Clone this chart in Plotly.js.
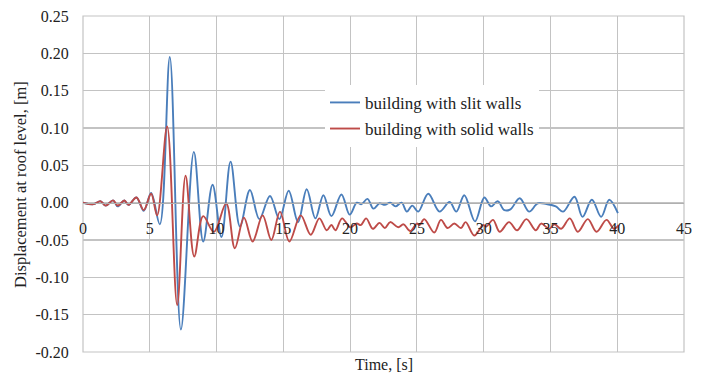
<!DOCTYPE html>
<html>
<head>
<meta charset="utf-8">
<script src="https://cdn.plot.ly/plotly-3.0.1.min.js"></script>
<style>
  html, body { margin: 0; padding: 0; background: #ffffff; }
  #chart { width: 701px; height: 381px; }
</style>
</head>
<body>
<div id="chart"></div>
<script>
// Roof-level displacement time histories (turning points of each response)
const tSlit = [0, 0.8, 1.3, 1.7, 2.25, 2.6, 3.1, 3.4, 4.0, 4.55, 5.1, 5.75, 6.5, 7.33, 8.3, 9.0, 9.7, 10.37, 11.05, 11.75,
  12.5, 13.2, 14.0, 14.7, 15.4, 16.1, 16.75, 17.4, 18.0, 18.6, 19.35, 19.97, 20.5, 20.85, 21.3, 21.75, 22.2, 22.6,
  23.0, 23.4, 23.85, 24.25, 24.65, 25.1, 25.85, 26.7, 27.45, 27.95, 28.55, 29.35, 30.05, 30.55, 31.05, 31.55, 32.0,
  32.7, 33.4, 34.05, 34.7, 35.4, 35.95, 36.8, 37.4, 38.1, 38.8, 39.4, 40.05];
const dSlit = [0, -0.002, 0.002, -0.004, 0.003, -0.005, 0.003, -0.003, 0.007, -0.011, 0.013, -0.029, 0.195, -0.170,
  0.068, -0.052, 0.024, -0.046, 0.055, -0.032, 0.017, -0.022, 0.009, -0.022, 0.016, -0.026, 0.018, -0.021, 0.010,
  -0.018, 0.011, -0.016, 0.000, -0.002, 0.005, -0.008, -0.001, -0.003, 0.000, -0.005, 0.000, -0.012, -0.004, -0.012,
  0.012, -0.012, 0.001, -0.012, 0.010, -0.025, 0.007, -0.005, 0.002, -0.010, -0.009, 0.006, -0.012, -0.001, -0.002,
  -0.005, -0.012, 0.008, -0.019, 0.004, -0.019, 0.004, -0.014];

const tSolid = [0, 0.8, 1.3, 1.7, 2.25, 2.6, 3.1, 3.4, 4.0, 4.55, 5.1, 5.55, 6.3, 7.05, 7.68, 8.33, 9.0, 9.8, 10.72,
  11.37, 12.05, 12.7, 13.45, 14.1, 14.75, 15.45, 16.3, 17.05, 17.7, 18.25, 18.6, 18.9, 19.4, 20.0, 20.5, 20.8, 21.2,
  21.7, 22.2, 22.6, 23.0, 23.6, 24.0, 24.5, 25.0, 25.2, 25.55, 26.3, 26.8, 27.3, 27.8, 28.3, 28.65, 29.3, 29.95, 30.2,
  30.7, 31.2, 31.9, 32.5, 33.2, 33.9, 34.3, 34.9, 35.3, 35.8, 36.45, 37.05, 37.8, 38.45, 39.2, 39.75, 40.1];
const dSolid = [0, -0.002, 0.002, -0.004, 0.003, -0.004, 0.003, -0.003, 0.007, -0.010, 0.012, -0.017, 0.102, -0.137,
  0.036, -0.072, -0.018, -0.039, -0.001, -0.061, -0.020, -0.052, -0.017, -0.050, -0.012, -0.052, -0.017, -0.043,
  -0.021, -0.037, -0.030, -0.037, -0.021, -0.033, -0.028, -0.030, -0.021, -0.035, -0.027, -0.034, -0.026, -0.033,
  -0.029, -0.038, -0.028, -0.030, -0.022, -0.040, -0.023, -0.034, -0.028, -0.034, -0.026, -0.044, -0.030, -0.032,
  -0.023, -0.039, -0.026, -0.037, -0.022, -0.037, -0.028, -0.035, -0.029, -0.035, -0.021, -0.039, -0.022, -0.039,
  -0.023, -0.035, -0.030];

const seriesNames = ['building with slit walls', 'building with solid walls'];
const xTickVals = [0, 5, 10, 15, 20, 25, 30, 35, 40, 45];
const xTickText = ['0', '5', '10', '15', '20', '25', '30', '35', '40', '45'];
const yTickVals = [-0.20, -0.15, -0.10, -0.05, 0.00, 0.05, 0.10, 0.15, 0.20, 0.25];
const yTickText = ['-0.20', '-0.15', '-0.10', '-0.05', '0.00', '0.05', '0.10', '0.15', '0.20', '0.25'];
const xTitle = 'Time, [s]';
const yTitle = 'Displacement at roof level, [m]';

const serif = 'Liberation Serif, Times New Roman, serif';
const gridColor = '#c3c3c3';
const textColor = '#222222';
const yMin = -0.20, yMax = 0.25;

const traces = [
  {
    x: tSlit, y: dSlit, name: seriesNames[0], type: 'scatter', mode: 'lines',
    line: { color: '#4a7ebb', width: 1.9, shape: 'spline', smoothing: 1 },
    legendgroup: 'a'
  },
  {
    x: tSolid, y: dSolid, name: seriesNames[1], type: 'scatter', mode: 'lines',
    line: { color: '#be4b48', width: 1.9, shape: 'spline', smoothing: 1 },
    legendgroup: 'b'
  }
];

const layout = {
  width: 701, height: 381,
  margin: { l: 83, r: 17, t: 16, b: 29 },
  paper_bgcolor: '#ffffff', plot_bgcolor: '#ffffff',
  font: { family: serif, size: 16, color: textColor },
  showlegend: true,
  legend: {
    x: 0.4027, y: 0.795, xanchor: 'left', yanchor: 'top',
    bgcolor: '#ffffff', borderwidth: 0,
    font: { family: serif, size: 17, color: textColor },
    traceorder: 'grouped', tracegroupgap: 1
  },
  xaxis: {
    range: [0, 45], tickvals: xTickVals, ticktext: xTickText,
    showgrid: true, gridcolor: gridColor, gridwidth: 1.2,
    zeroline: false,
    anchor: 'free', position: (0 - yMin) / (yMax - yMin),
    showline: true, linecolor: '#b0b0b0', linewidth: 1.2,
    ticks: 'outside', ticklen: 11, tickcolor: 'rgba(0,0,0,0)',
    tickfont: { family: serif, size: 16, color: textColor }
  },
  yaxis: {
    range: [yMin, yMax], tickvals: yTickVals, ticktext: yTickText,
    showgrid: true, gridcolor: gridColor, gridwidth: 1.2,
    zeroline: false, showline: false,
    ticks: 'outside', ticklen: 10, tickcolor: 'rgba(0,0,0,0)',
    tickfont: { family: serif, size: 16, color: textColor }
  },
  shapes: [
    { type: 'rect', xref: 'paper', yref: 'paper', x0: 0, x1: 1, y0: 0, y1: 1,
      line: { color: gridColor, width: 1.2 }, layer: 'below' }
  ],
  annotations: [
    { text: xTitle, xref: 'paper', yref: 'paper', x: 0.5, y: -0.005, xanchor: 'center', yanchor: 'top',
      showarrow: false, font: { family: serif, size: 16, color: textColor } },
    { text: yTitle, xref: 'paper', yref: 'paper', x: -0.105, y: 0.5, xanchor: 'center', yanchor: 'middle',
      textangle: -90, showarrow: false, font: { family: serif, size: 16.5, color: textColor } }
  ]
};

Plotly.newPlot('chart', traces, layout, { staticPlot: true, displayModeBar: false });
</script>
</body>
</html>
